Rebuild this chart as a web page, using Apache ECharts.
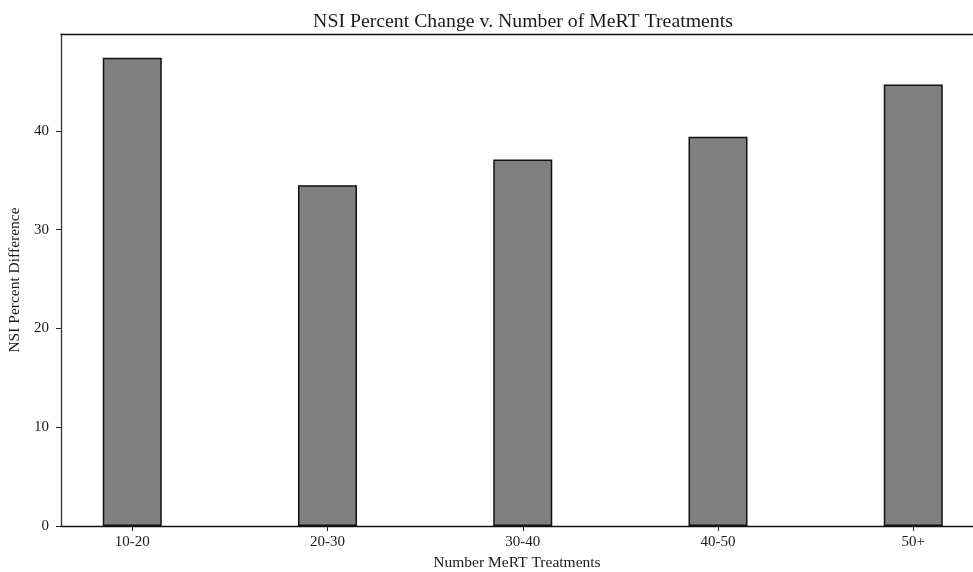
<!DOCTYPE html>
<html>
<head>
<meta charset="utf-8">
<script src="https://cdn.jsdelivr.net/npm/echarts@6/dist/echarts.min.js"></script>
<style>
  html, body { margin: 0; padding: 0; background: #fff; }
  #chart { width: 973px; height: 572px; }
</style>
</head>
<body>
<div id="chart"></div>
<script>
// Treatment-count groups and mean NSI percent change per group
const categories = ['10-20', '20-30', '30-40', '40-50', '50+'];
const nsiPercentDiff = [47.4, 34.5, 37.1, 39.4, 44.7];
const yTicks = [0, 10, 20, 30, 40];

const positions = categories.map((_, i) => i);
const FONT = '"Liberation Serif", "DejaVu Serif", serif';
const INK = '#1a1a1a';

const chart = echarts.init(document.getElementById('chart'));
chart.setOption({
  animation: false,
  backgroundColor: '#ffffff',
  title: {
    text: 'NSI Percent Change v. Number of MeRT Treatments',
    left: 518,
    textAlign: 'center',
    top: 7,
    textStyle: { fontFamily: FONT, fontSize: 19.8, fontWeight: 'normal', color: INK }
  },
  grid: {
    left: 61, top: 34, width: 912, height: 492,
    show: false, containLabel: false, outerBoundsMode: 'none'
  },
  xAxis: [{
    type: 'value',
    min: -0.365,
    max: 4.306,
    splitLine: { show: false },
    axisLine: { show: true, onZero: false, lineStyle: { color: '#111', width: 1.3 } },
    axisTick: { show: true, customValues: positions, length: 5, lineStyle: { color: '#222' } },
    axisLabel: {
      customValues: positions,
      formatter: v => categories[Math.round(v)],
      fontFamily: FONT, fontSize: 15, color: INK, margin: 9
    },
    name: 'Number MeRT Treatments',
    nameLocation: 'middle',
    nameGap: 29,
    nameTextStyle: { fontFamily: FONT, fontSize: 15.5, color: INK }
  }, {
    // top frame line
    type: 'value',
    position: 'top',
    min: -0.365,
    max: 4.306,
    splitLine: { show: false },
    axisLine: { show: true, onZero: false, lineStyle: { color: '#111', width: 1.3 } },
    axisTick: { show: false },
    axisLabel: { show: false }
  }],
  yAxis: {
    type: 'value',
    min: 0,
    max: 49.8,
    splitLine: { show: false },
    axisLine: { show: true, onZero: false, lineStyle: { color: '#333', width: 1.3 } },
    axisTick: { show: true, customValues: yTicks, length: 5, lineStyle: { color: '#222' } },
    axisLabel: {
      customValues: yTicks,
      fontFamily: FONT, fontSize: 15, color: INK, margin: 12
    },
    name: 'NSI Percent Difference',
    nameLocation: 'middle',
    nameGap: 33,
    nameTextStyle: { fontFamily: FONT, fontSize: 15.5, color: INK }
  },
  series: [{
    type: 'bar',
    xAxisIndex: 0,
    data: positions.map((p, i) => [p, nsiPercentDiff[i]]),
    barWidth: 59,
    itemStyle: { color: '#808080', borderColor: '#111', borderWidth: 1.5 }
  }]
});
</script>
</body>
</html>
